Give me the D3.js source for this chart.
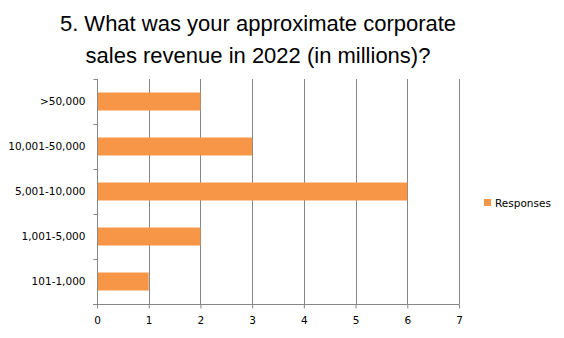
<!DOCTYPE html>
<html><head><meta charset="utf-8">
<script src="https://cdn.jsdelivr.net/npm/d3@7"></script>
<style>body{margin:0;background:#fff}svg{display:block}</style>
</head><body>
<script>
const categories = ["101-1,000","1,001-5,000","5,001-10,000","10,001-50,000",">50,000"];
const responses = [1,2,6,3,2];
const xTicks = [0,1,2,3,4,5,6,7];
const titleLines = ["5. What was your approximate corporate","sales revenue in 2022 (in millions)?"];
const seriesName = "Responses";

(function(){
const W=564,H=338;
const svg=d3.select("body").append("svg").attr("width",W).attr("height",H);
const pL=97,pR=459,pT=79,pB=304;
const x=d3.scaleLinear().domain([0,7]).range([pL,pR]);
const y=d3.scaleBand().domain(categories.slice().reverse()).range([pT,pB]).paddingInner(0.6).paddingOuter(0.3);
const grid="#868686";
const tfont="'Liberation Sans', Arial, sans-serif";
const font="'DejaVu Sans', Verdana, sans-serif";
const fs=10.5;

svg.append("g").selectAll("text").data(titleLines).join("text")
  .attr("x",258).attr("y",(d,i)=>31+i*32).attr("text-anchor","middle")
  .attr("font-family",tfont).attr("font-size",22).attr("fill","#000").text(d=>d);

svg.append("g").selectAll("line").data(xTicks.slice(1)).join("line")
  .attr("x1",d=>Math.round(x(d))+0.5).attr("x2",d=>Math.round(x(d))+0.5)
  .attr("y1",pT).attr("y2",pB).attr("stroke",grid).attr("stroke-width",1);

svg.append("g").selectAll("rect").data(categories).join("rect")
  .attr("x",x(0)).attr("y",d=>y(d)).attr("height",y.bandwidth())
  .attr("width",(d,i)=>x(responses[i])-x(0)).attr("fill","#F79646");

const xa=svg.append("g").attr("transform",`translate(0,${pB+0.5})`)
  .call(d3.axisBottom(x).tickValues(xTicks).tickFormat(d3.format("d")).tickSize(4).tickPadding(8).tickSizeOuter(0));
xa.select(".domain").attr("stroke",grid).attr("d",`M${pL-4},0H${pR+0.5}`);
xa.selectAll(".tick line").attr("stroke",grid);
xa.selectAll("text").attr("font-family",font).attr("font-size",fs).attr("fill","#000");

const ya=svg.append("g").attr("transform",`translate(${pL+0.5},0)`)
  .call(d3.axisLeft(y).tickSize(0).tickPadding(12));
ya.select(".domain").attr("stroke",grid).attr("d",`M0,${pT}V${pB}`);
ya.selectAll("text").attr("font-family",font).attr("font-size",fs).attr("fill","#000");
const step=y.step();
const bounds=d3.range(categories.length).map(i=>pT+i*step);
ya.append("g").selectAll("line").data(bounds).join("line")
  .attr("x1",-4).attr("x2",0).attr("y1",d=>Math.round(d)+0.5).attr("y2",d=>Math.round(d)+0.5)
  .attr("stroke",grid);

const lg=svg.append("g").attr("transform","translate(484,199)");
lg.append("rect").attr("width",7).attr("height",7).attr("fill","#F79646");
lg.append("text").attr("x",11).attr("y",7.5).attr("font-family",font).attr("font-size",fs).attr("fill","#000").text(seriesName);
})();
</script>
</body></html>
